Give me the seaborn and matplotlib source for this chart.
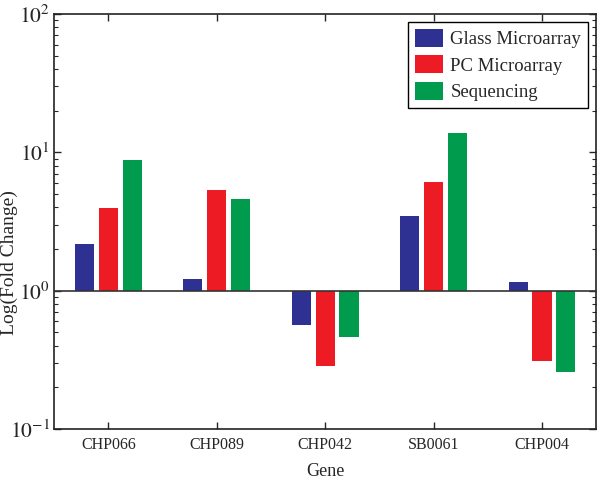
import numpy as np
import pandas as pd
import matplotlib
matplotlib.use("Agg")
import matplotlib.pyplot as plt
import seaborn as sns
from matplotlib.ticker import FixedLocator, FixedFormatter

genes = ['CHP066', 'CHP089', 'CHP042', 'SB0061', 'CHP004']
glass = [2.17, 1.22, 0.565, 3.47, 1.16]
pc = [3.94, 5.37, 0.287, 6.14, 0.31]
seq = [8.77, 4.60, 0.46, 13.7, 0.258]
methods = ['Glass Microarray', 'PC Microarray', 'Sequencing']
colors = ['#2e3192', '#ed1c24', '#009b4c']

rows = []
for m, vals in zip(methods, [glass, pc, seq]):
    for g, v in zip(genes, vals):
        rows.append({'Gene': g, 'Method': m, 'logfc': np.log10(v)})
df = pd.DataFrame(rows)

sns.set_style('ticks')
plt.rcParams['font.family'] = ['Liberation Serif', 'DejaVu Serif']
plt.rcParams['mathtext.fontset'] = 'stix'

fig, ax = plt.subplots(figsize=(6.01, 4.8), dpi=100)
fig.subplots_adjust(left=0.09, right=0.992, top=0.971, bottom=0.106)

sns.barplot(data=df, x='Gene', y='logfc', hue='Method', hue_order=methods,
            palette=colors, width=0.66, gap=0.2, saturation=1, ax=ax,
            edgecolor='none')

ax.axhline(0, color='#333333', lw=1.2, zorder=3)
ax.set_ylim(-1, 2)
ax.set_xlim(-0.5, 4.5)

ax.yaxis.set_major_locator(FixedLocator([-1, 0, 1, 2]))
ax.yaxis.set_major_formatter(FixedFormatter(['$10^{-1}$', '$10^{0}$', '$10^{1}$', '$10^{2}$']))
minors = [np.log10(m * 10.0 ** k) for k in (-1, 0, 1) for m in range(2, 10)]
ax.yaxis.set_minor_locator(FixedLocator(minors))

ax.tick_params(axis='both', which='both', direction='in', top=True, right=True)
ax.tick_params(axis='both', which='major', length=5, width=1)
ax.tick_params(axis='y', which='minor', length=3, width=0.8)
ax.tick_params(axis='x', labelsize=11.5, pad=6)
ax.tick_params(axis='y', labelsize=15.5, pad=3)
for s in ax.spines.values():
    s.set_linewidth(1.2)
    s.set_color('#222222')

ax.set_xlabel('Gene', fontsize=13, labelpad=7)
ax.set_ylabel('Log(Fold Change)', fontsize=14)
ax.yaxis.set_label_coords(-0.066, 0.40)

leg = ax.legend(loc='upper right', fontsize=13.5, frameon=True, fancybox=False,
                edgecolor='black', framealpha=1, handlelength=1.5,
                handleheight=1.1, labelspacing=0.38, borderaxespad=0.45,
                handletextpad=0.4, borderpad=0.35)
leg.get_frame().set_linewidth(1.0)

fig.savefig('out.png', dpi=100)
